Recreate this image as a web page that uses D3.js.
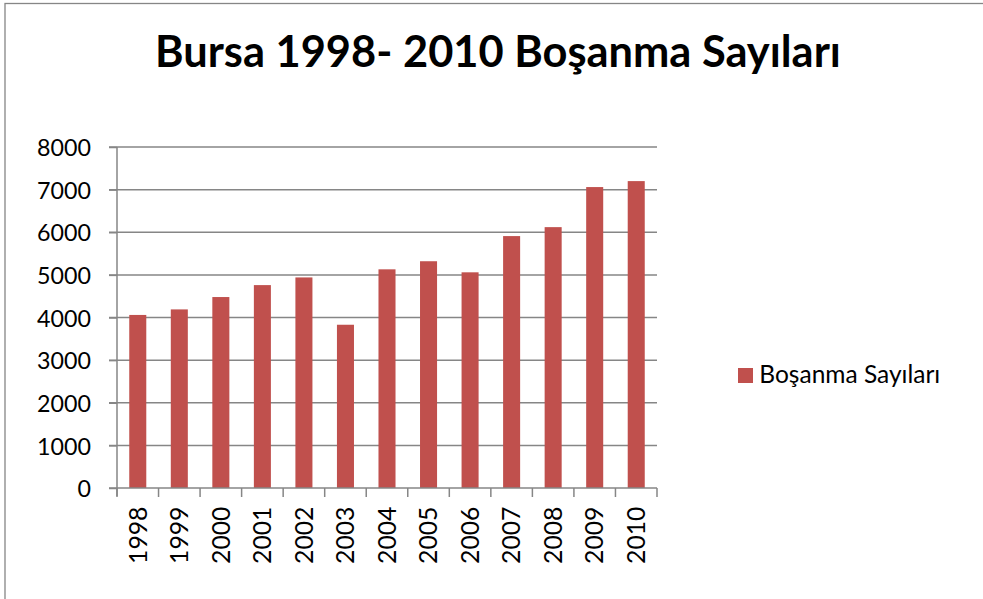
<!DOCTYPE html>
<html><head><meta charset="utf-8">
<script src="https://cdn.jsdelivr.net/npm/d3@7"></script>
<style>body{margin:0;background:#fff;overflow:hidden}</style>
</head><body>
<svg id="c" width="983" height="599"></svg>
<script>
const titleText = "Bursa 1998- 2010 Boşanma Sayıları";
const seriesName = "Boşanma Sayıları";
const years = ["1998","1999","2000","2001","2002","2003","2004","2005","2006","2007","2008","2009","2010"];
const values = [4060,4190,4480,4760,4940,3830,5130,5320,5060,5910,6120,7060,7200];
const yTicks = [0,1000,2000,3000,4000,5000,6000,7000,8000];

const svg = d3.select("#c");
const FONT = "Lato, 'Open Sans', sans-serif";
const barColor = "#C0504D";
const gridColor = "#868686";

// chart border
svg.append("rect").attr("x",5).attr("y",3.5).attr("width",1100).attr("height",700)
  .attr("fill","#fff").attr("stroke",gridColor).attr("stroke-width",1.3);

const x = d3.scaleBand().domain(years).range([117,657]).paddingInner(0.59).paddingOuter(0.295);
const y = d3.scaleLinear().domain([0,8000]).range([488,147]);

function fitSize(sel, target){
  const w = sel.node().getComputedTextLength();
  const fs = parseFloat(sel.attr("font-size"));
  return fs*target/w;
}

// gridlines
svg.append("g").selectAll("line").data(yTicks.filter(d=>d>0)).join("line")
  .attr("x1",109).attr("x2",657).attr("y1",d=>y(d)).attr("y2",d=>y(d))
  .attr("stroke",gridColor).attr("stroke-width",1.5);

// bars
svg.append("g").selectAll("rect").data(values).join("rect")
  .attr("x",(d,i)=>x(years[i])).attr("width",x.bandwidth())
  .attr("y",d=>y(d)).attr("height",d=>y(0)-y(d))
  .attr("fill",barColor);

// y axis
const yAxis = d3.axisLeft(y).tickValues(yTicks).tickSize(8).tickFormat(d3.format("d"));
const gy = svg.append("g").attr("transform","translate(117,0)").call(yAxis);
gy.select(".domain").attr("stroke",gridColor).attr("stroke-width",1.5).attr("d","M0,"+y(8000)+"V"+(y(0)+8));
gy.selectAll(".tick line").attr("stroke",gridColor).attr("stroke-width",1.5);
const yl = gy.selectAll(".tick text").attr("font-family",FONT).attr("font-size",23).attr("fill","#000")
  .attr("x",-26).attr("dy",null).attr("y",8.7).attr("text-anchor","end");
const ySize = fitSize(gy.selectAll(".tick text").filter(d=>d===8000), 54);
yl.attr("font-size",ySize);

// x axis
const gx = svg.append("g").attr("transform","translate(0,"+y(0)+")");
gx.append("line").attr("x1",109).attr("x2",657).attr("stroke",gridColor).attr("stroke-width",1.5);
const bounds = years.map(yr=>x(yr)-x.step()*0.295).concat([657]);
gx.selectAll("line.t").data(bounds).join("line").attr("class","t")
  .attr("x1",d=>d).attr("x2",d=>d).attr("y1",0).attr("y2",9)
  .attr("stroke",gridColor).attr("stroke-width",1.5);
const xl = gx.selectAll("text").data(years).join("text")
  .attr("transform",d=>"translate("+(x(d)+x.bandwidth()/2+8.8)+",18.5) rotate(-90)")
  .attr("text-anchor","end").attr("font-family",FONT).attr("font-size",23).attr("fill","#000")
  .text(d=>d);
const xSize = fitSize(xl.filter(d=>d==="2000"), 57.5);
xl.attr("font-size",xSize);

// title
const t = svg.append("text").attr("x",498).attr("y",66.7).attr("text-anchor","middle")
  .attr("font-family",FONT).attr("font-weight","bold").attr("font-size",37).attr("fill","#000")
  .text(titleText);
t.attr("font-size", fitSize(t, 686));

// legend
svg.append("rect").attr("x",738).attr("y",368).attr("width",15).attr("height",15).attr("fill",barColor);
const lt = svg.append("text").attr("x",759.3).attr("y",383.3).attr("font-family",FONT)
  .attr("font-size",23).attr("fill","#000").text(seriesName);
lt.attr("font-size", fitSize(lt, 181));
</script>
</body></html>
